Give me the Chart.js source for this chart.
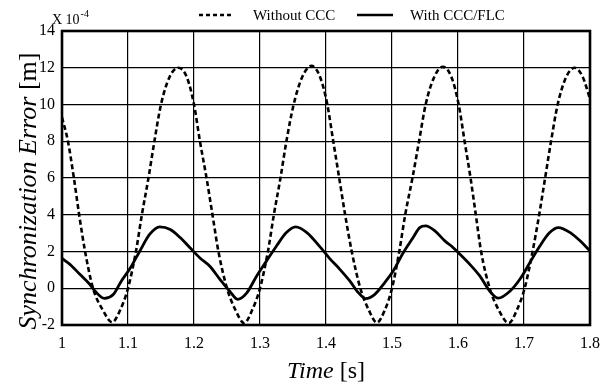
<!DOCTYPE html>
<html>
<head>
<meta charset="utf-8">
<script src="https://cdn.jsdelivr.net/npm/chart.js@4/dist/chart.umd.min.js"></script>
<style>
  html, body { margin: 0; padding: 0; background: #fff; }
  #wrap { position: relative; width: 610px; height: 389px; }
</style>
</head>
<body>
<div id="wrap"><canvas id="c" width="610" height="389"></canvas></div>
<script>
// ---- data ----
const seriesNames = ['Without CCC', 'With CCC/FLC'];

const withoutT = [1.000,1.009,1.018,1.026,1.035,1.047,1.062,
  1.076,1.088,1.100,1.112,1.121,1.131,1.140,1.150,1.163,1.176,1.189,1.200,1.209,1.219,1.228,1.237,1.250,1.263,
  1.276,1.288,1.300,1.312,1.321,1.331,1.340,1.351,1.364,1.378,1.391,1.402,1.411,1.420,1.429,1.439,1.452,1.465,
  1.477,1.489,1.500,1.511,1.520,1.531,1.541,1.551,1.564,1.577,1.590,1.601,1.610,1.619,1.627,1.635,1.648,1.662,
  1.677,1.689,1.701,1.713,1.723,1.732,1.741,1.751,1.764,1.777,1.789,1.800];
const withoutV = [9.3,8.0,6.0,4.0,2.0,0.0,-1.2,
  -1.85,-1.2,0.0,2.0,4.0,6.0,8.0,10.0,11.5,12.0,11.5,10.0,8.0,6.0,4.0,2.0,0.0,-1.2,
  -1.9,-1.2,0.0,2.0,4.0,6.0,8.0,10.0,11.5,12.1,11.5,10.0,8.0,6.0,4.0,2.0,0.0,-1.2,
  -1.87,-1.2,0.0,2.0,4.0,6.0,8.0,10.0,11.5,12.05,11.5,10.0,8.0,6.0,4.0,2.0,0.0,-1.2,
  -1.9,-1.2,0.0,2.0,4.0,6.0,8.0,10.0,11.5,12.0,11.5,10.3];

const withT = [1.000,1.012,1.027,1.042,1.050,1.064,1.078,1.090,1.103,1.118,1.133,1.148,1.164,1.179,1.194,1.209,
  1.224,1.239,1.255,1.266,1.280,1.295,1.310,1.325,1.340,1.354,1.371,1.391,1.406,
  1.421,1.436,1.449,1.460,1.474,1.489,1.502,1.517,1.532,1.542,1.551,1.565,1.580,1.590,1.603,
  1.618,1.633,1.648,1.661,1.679,1.694,1.709,1.724,1.739,1.752,1.770,1.785,1.800];
const withV = [1.62,1.3,0.76,0.22,-0.15,-0.55,-0.33,0.4,1.07,2.03,2.94,3.34,3.2,2.76,2.2,1.65,
  1.2,0.5,-0.2,-0.6,-0.25,0.67,1.49,2.3,3.03,3.34,3.03,2.25,1.6,
  1.03,0.4,-0.24,-0.56,-0.33,0.31,0.95,1.93,2.76,3.3,3.39,3.12,2.58,2.3,1.85,
  1.3,0.67,-0.15,-0.54,-0.15,0.5,1.4,2.3,3.03,3.3,3.03,2.58,2.03];

const xTickLabels = ['1','1.1','1.2','1.3','1.4','1.5','1.6','1.7','1.8'];
const yTickLabels = ['-2','0','2','4','6','8','10','12','14'];
const xTitle = ['Time', ' [s]'];
const yTitle = ['Synchronization Error', ' [m]'];
const exponentText = ['X 10', '-4'];

// ---- chart ----
const SERIF = '"Liberation Serif", "Times New Roman", serif';

const decor = {
  id: 'decor',
  afterDatasetsDraw(chart) {
    const ctx = chart.ctx, a = chart.chartArea;
    ctx.save();
    ctx.strokeStyle = '#000';
    ctx.lineWidth = 2.6;
    ctx.strokeRect(a.left, a.top, a.right - a.left, a.bottom - a.top);
    ctx.restore();
  },
  afterDraw(chart) {
    const ctx = chart.ctx, a = chart.chartArea;
    ctx.save();
    ctx.fillStyle = '#000';
    ctx.strokeStyle = '#000';
    // exponent label
    ctx.font = '14px ' + SERIF;
    ctx.textBaseline = 'alphabetic';
    ctx.textAlign = 'left';
    ctx.fillText(exponentText[0], 52, 24);
    const w = ctx.measureText(exponentText[0]).width;
    ctx.font = '10px ' + SERIF;
    ctx.fillText(exponentText[1], 52 + w + 1, 17);

    // legend
    ctx.lineWidth = 2.6;
    ctx.setLineDash([4, 3]);
    ctx.beginPath(); ctx.moveTo(199, 15); ctx.lineTo(233, 15); ctx.stroke();
    ctx.setLineDash([]);
    ctx.beginPath(); ctx.moveTo(357, 15); ctx.lineTo(393, 15); ctx.stroke();
    ctx.font = '15px ' + SERIF;
    ctx.fillText(seriesNames[0], 253, 20);
    ctx.fillText(seriesNames[1], 410, 20);

    // x title
    ctx.font = 'italic 24px ' + SERIF;
    const xw1 = ctx.measureText(xTitle[0]).width;
    ctx.font = '24px ' + SERIF;
    const xw2 = ctx.measureText(xTitle[1]).width;
    let xs = (a.left + a.right) / 2 - (xw1 + xw2) / 2;
    ctx.font = 'italic 24px ' + SERIF;
    ctx.fillText(xTitle[0], xs, 378);
    ctx.font = '24px ' + SERIF;
    ctx.fillText(xTitle[1], xs + xw1, 378);

    // y title (rotated)
    ctx.translate(36, 191);
    ctx.rotate(-Math.PI / 2);
    ctx.font = 'italic 26px ' + SERIF;
    const yw1 = ctx.measureText(yTitle[0]).width;
    ctx.font = '26px ' + SERIF;
    const yw2 = ctx.measureText(yTitle[1]).width;
    let ys = -(yw1 + yw2) / 2;
    ctx.font = 'italic 26px ' + SERIF;
    ctx.fillText(yTitle[0], ys, 0);
    ctx.font = '26px ' + SERIF;
    ctx.fillText(yTitle[1], ys + yw1, 0);
    ctx.restore();
  }
};

const toPts = (T, V) => T.map((t, i) => ({ x: t, y: V[i] }));

new Chart(document.getElementById('c'), {
  type: 'line',
  data: {
    datasets: [
      {
        label: seriesNames[0],
        data: toPts(withoutT, withoutV),
        borderColor: '#000',
        borderWidth: 2.6,
        borderDash: [5, 3],
        pointRadius: 0,
        fill: false,
        cubicInterpolationMode: 'monotone'
      },
      {
        label: seriesNames[1],
        data: toPts(withT, withV),
        borderColor: '#000',
        borderWidth: 2.8,
        pointRadius: 0,
        fill: false,
        cubicInterpolationMode: 'monotone'
      }
    ]
  },
  options: {
    responsive: false,
    animation: false,
    events: [],
    layout: { padding: { top: 31, right: 20, left: 0, bottom: 0 } },
    plugins: { legend: { display: false }, tooltip: { enabled: false } },
    scales: {
      x: {
        type: 'linear',
        min: 1, max: 1.8,
        afterFit(s) { s.height = 64; },
        afterBuildTicks(s) { s.ticks = xTickLabels.map(l => ({ value: parseFloat(l) })); },
        ticks: {
          color: '#000',
          font: { family: SERIF, size: 16 },
          padding: 9,
          maxRotation: 0,
          autoSkip: false,
          callback: (v, i) => xTickLabels[i]
        },
        grid: { color: '#000', lineWidth: 1.2, drawTicks: false },
        border: { display: false }
      },
      y: {
        type: 'linear',
        min: -2, max: 14,
        afterFit(s) { s.width = 62; },
        afterBuildTicks(s) { s.ticks = yTickLabels.map(l => ({ value: parseFloat(l) })); },
        ticks: {
          color: '#000',
          font: { family: SERIF, size: 16 },
          padding: 7,
          autoSkip: false,
          callback: (v, i) => yTickLabels[i]
        },
        grid: { color: '#000', lineWidth: 1.2, drawTicks: false },
        border: { display: false }
      }
    }
  },
  plugins: [decor]
});
</script>
</body>
</html>
